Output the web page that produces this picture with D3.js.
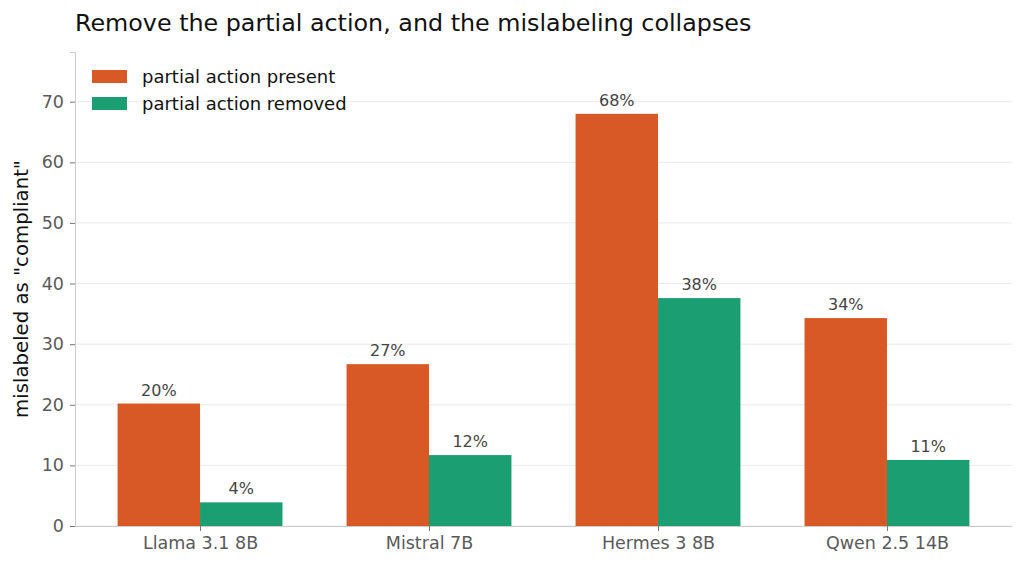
<!DOCTYPE html>
<html>
<head>
<meta charset="utf-8">
<script src="https://cdn.jsdelivr.net/npm/d3@7"></script>
<style>
  body { margin: 0; background: #fff; }
  svg { font-family: "DejaVu Sans", sans-serif; }
</style>
</head>
<body>
<div id="chart"></div>
<script>
const models = ["Llama 3.1 8B", "Mistral 7B", "Hermes 3 8B", "Qwen 2.5 14B"];
const seriesNames = ["partial action present", "partial action removed"];
const presentVals = [20.2, 26.7, 68.0, 34.3];
const removedVals = [3.9, 11.7, 37.6, 10.9];
const yTicks = [0, 10, 20, 30, 40, 50, 60, 70];
const colors = ["#d95926", "#1b9e71"];

const W = 1024, H = 570;
const M = { left: 75, right: 12, top: 52, bottom: 44 };
const iw = W - M.left - M.right;
const ih = H - M.top - M.bottom;

const svg = d3.select("#chart").append("svg")
  .attr("width", W).attr("height", H);

const g = svg.append("g").attr("transform", `translate(${M.left},${M.top})`);

// index-based x like matplotlib: bars at i -/+ width/2, margins 5%
const barW = 0.36;
const x = d3.scaleLinear()
  .domain([-barW - 0.186, 3 + barW + 0.186])
  .range([0, iw]);
const y = d3.scaleLinear().domain([0, 68.0 * 1.15]).range([ih, 0]);

// grid
g.selectAll(".grid").data(yTicks).enter().append("line")
  .attr("x1", 0).attr("x2", iw)
  .attr("y1", d => y(d)).attr("y2", d => y(d))
  .attr("stroke", "#ebebeb").attr("stroke-width", 1);

const series = [presentVals, removedVals];
series.forEach((vals, s) => {
  const off = s === 0 ? -barW : 0;
  g.selectAll(".bar" + s).data(vals).enter().append("rect")
    .attr("x", (d, i) => x(i + off))
    .attr("width", x(barW) - x(0))
    .attr("y", d => y(d))
    .attr("height", d => ih - y(d))
    .attr("fill", colors[s]);
  g.selectAll(".lab" + s).data(vals).enter().append("text")
    .attr("x", (d, i) => x(i + off + barW / 2))
    .attr("y", d => y(d) - 8)
    .attr("text-anchor", "middle")
    .attr("font-size", "16px")
    .attr("fill", "#444")
    .text(d => Math.round(d) + "%");
});

// axes
const yAxis = g.append("g")
  .call(d3.axisLeft(y).tickValues(yTicks).tickSize(5).tickPadding(6));
yAxis.select(".domain").attr("stroke", "#cccccc");
yAxis.selectAll(".tick line").attr("stroke", "#777");
yAxis.selectAll("text").attr("font-size", "17.5px").attr("fill", "#5a5a5a")
  .attr("font-family", "DejaVu Sans");

const xAxis = g.append("g").attr("transform", `translate(0,${ih})`)
  .call(d3.axisBottom(x).tickValues([0, 1, 2, 3]).tickFormat(i => models[i])
    .tickSize(5).tickPadding(6).tickSizeOuter(0));
xAxis.select(".domain").attr("stroke", "#cccccc");
xAxis.selectAll(".tick line").attr("stroke", "#777");
xAxis.selectAll("text").attr("font-size", "17.5px").attr("fill", "#5a5a5a")
  .attr("font-family", "DejaVu Sans");

// y label
svg.append("text")
  .attr("transform", `translate(28,${M.top + ih / 2}) rotate(-90)`)
  .attr("text-anchor", "middle")
  .attr("font-size", "19.7px")
  .attr("fill", "#111")
  .text('mislabeled as "compliant"');

// title
svg.append("text")
  .attr("x", 75).attr("y", 31)
  .attr("font-size", "23.8px")
  .attr("fill", "#111")
  .text("Remove the partial action, and the mislabeling collapses");

// legend
const leg = svg.append("g").attr("transform", "translate(92,70)");
seriesNames.forEach((n, i) => {
  leg.append("rect").attr("x", 0).attr("y", i * 27).attr("width", 35).attr("height", 13)
    .attr("fill", colors[i]);
  leg.append("text").attr("x", 50).attr("y", i * 27 + 13)
    .attr("font-size", "18px").attr("fill", "#111").text(n);
});
</script>
</body>
</html>
